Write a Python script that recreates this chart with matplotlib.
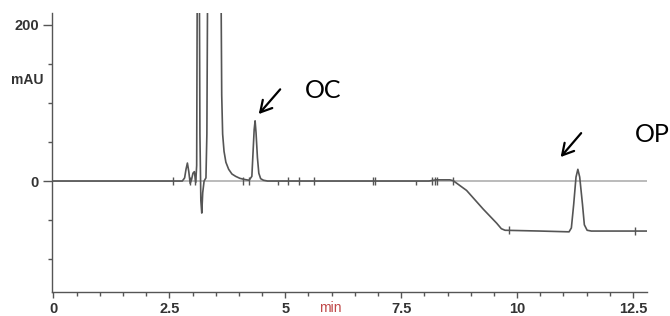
import numpy as np
import matplotlib
matplotlib.use('Agg')
import matplotlib.pyplot as plt

# Chromatogram trace (time in min, signal in mAU)
trace_t = [0.00, 2.50, 2.78, 2.83, 2.86, 2.89, 2.92, 2.95, 2.98, 3.01, 3.04, 3.07,
           3.09, 3.105, 3.125, 3.145, 3.16, 3.18, 3.20, 3.22, 3.25, 3.29, 3.31, 3.33,
           3.47, 3.61, 3.63, 3.65, 3.68, 3.72, 3.78, 3.85, 3.93, 4.02, 4.12, 4.22,
           4.28, 4.30, 4.33, 4.35, 4.37, 4.40, 4.43, 4.47, 4.53, 4.62,
           8.10, 8.25, 8.55, 8.62, 8.91, 9.27, 9.56, 9.66, 9.74, 10.50,
           11.12, 11.17, 11.22, 11.27, 11.31, 11.35, 11.41, 11.45, 11.51, 11.60, 12.80]
trace_v = [0, 0, 0, 4, 15, 23, 12, -3, 2, 10, 12, -2,
           20, 300, 900, 300, 60, -25, -41, -15, 0, 4, 60, 300,
           1500, 300, 110, 60, 38, 24, 15, 9, 6, 3.5, 2, 1,
           6, 30, 66, 77, 62, 30, 10, 3, 1, 0,
           0, 1.5, 1.5, 0.5, -12, -36, -54, -61, -63, -64,
           -65, -60, -30, 5, 15, 5, -30, -56, -63, -64, -64]

# integration marks on the trace
mark_t = [2.57, 2.95, 3.06, 4.08, 4.21, 4.85, 5.06, 5.30, 5.62, 6.90, 6.93,
          7.83, 8.17, 8.23, 8.28, 8.61, 9.83, 12.55]
mark_base = [0, 0, 0, 0, 0, 0, 0, 0, 0, 0, 0,
             0, 0, 0, 0, 0, -63, -64]
mark_up = [5, 5, 5, 5, 5, 0, 5, 5, 5, 5, 5,
           0, 5, 5, 5, 5, 5, 5]

x_ticks = [0, 2.5, 5, 7.5, 10, 12.5]
x_labels = ['0', '2.5', '5', '7.5', '10', '12.5']
y_ticks = [0, 200]

fig = plt.figure(figsize=(6.7, 3.16), dpi=100)
ax = fig.add_axes([0.0776, 0.0759, 0.888, 0.883])

ax.axhline(0, color='#a8a8a8', lw=1.1, zorder=1)
ax.plot(trace_t, trace_v, color='#555555', lw=1.2, zorder=2)
for t, b, u in zip(mark_t, mark_base, mark_up):
    ax.vlines(t, b - 5, b + u, color='#555555', lw=1.0, zorder=3)

ax.set_xlim(-0.03, 12.80)
ax.set_ylim(-142, 215)

for s in ['top', 'right']:
    ax.spines[s].set_visible(False)
for s in ['left', 'bottom']:
    ax.spines[s].set_color('#555555')
    ax.spines[s].set_linewidth(1.0)

ax.set_xticks(x_ticks)
ax.set_xticklabels(x_labels)
ax.set_xticks(np.arange(0, 12.8, 0.5), minor=True)
ax.set_yticks(y_ticks)
ax.set_yticklabels(['0', '200'])
ax.set_yticks(np.arange(-100, 201, 50), minor=True)
ax.tick_params(axis='x', which='major', length=4.5, width=1, color='#555555', pad=3)
ax.tick_params(axis='x', which='minor', length=3, width=1, color='#555555')
ax.tick_params(axis='y', which='major', length=6.5, width=1, color='#555555', pad=3)
ax.tick_params(axis='y', which='minor', length=3, width=1, color='#555555')
for lab in ax.get_xticklabels() + ax.get_yticklabels():
    lab.set_fontfamily('Liberation Sans')
    lab.set_fontweight('bold')
    lab.set_fontsize(10.5)
    lab.set_color('#333333')

fig.text(44 / 670, 1 - 80 / 316, 'mAU', ha='right', va='center',
         fontsize=10, fontweight='bold', family='Liberation Sans', color='#333333')
fig.text(330 / 670, 1 / 316, 'min', ha='center', va='bottom',
         fontsize=10, family='Liberation Sans', color='#c04848')

# peak labels with arrows
arrow = dict(arrowstyle='->, head_length=0.8, head_width=0.45', color='black', lw=1.6)
ax.annotate('', xy=(4.39, 83), xytext=(4.93, 120), arrowprops=arrow)
ax.annotate('', xy=(10.90, 28), xytext=(11.42, 64), arrowprops=arrow)
ax.text(5.42, 106, 'OC', fontsize=18, family='Lato', va='baseline', ha='left')
ax.text(12.54, 50, 'OP', fontsize=18, family='Lato', va='baseline', ha='left', clip_on=False)

fig.savefig('out.png', dpi=100)
